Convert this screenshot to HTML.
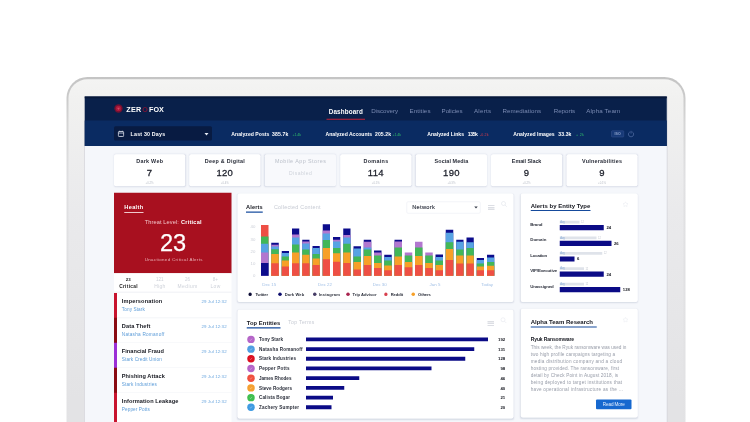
<!DOCTYPE html>
<html lang="en"><head><meta charset="utf-8"><title>ZeroFOX Dashboard</title>
<style>
html,body{margin:0;padding:0;background:#fff;}
body{width:750px;height:422px;overflow:hidden;position:relative;font-family:"Liberation Sans",sans-serif;}
#clip{position:absolute;left:0;top:0;width:750px;height:422px;overflow:hidden;background:#fff;}
#stage{position:absolute;left:0;top:0;width:3000px;height:1760px;overflow:hidden;background:#fff;transform:scale(0.25);transform-origin:0 0;filter:blur(2.2px);}
.r{position:absolute;display:block;}
.t{position:absolute;white-space:nowrap;margin:0;padding:0;}
</style></head><body><div id="clip"><div id="stage">
<div class="r" style="left:265.6px;top:307.6px;width:2476.8px;height:1600px;border-radius:84px;background:linear-gradient(to bottom,#c4c4c4 0,#cbcbcb 88px,#d6d6d6 180px,#e0e0e2 400px,#e3e3e5 100%);"></div>
<div class="r" style="left:274px;top:317.2px;width:2460px;height:1600px;border-radius:76px;background:linear-gradient(to bottom,#f4f4f3 0,#f1f1f0 80px,#eaeaec 520px,#e3e3e5 1280px);"></div>
<div class="r" style="left:335.6px;top:385.6px;width:2334.4px;height:1374.4px;background:#d3d3d9;"></div>
<div class="r" style="left:338.8px;top:386.4px;width:2328px;height:1373.6px;background:#f5f7fb;"></div>
<div class="r" style="left:338.8px;top:386.4px;width:2328px;height:197.6px;background:#09204a;"></div>
<div class="r" style="left:338.8px;top:386.4px;width:2328px;height:6.4px;background:#061738;"></div>
<div class="r" style="left:338.8px;top:482.4px;width:2328px;height:101.6px;background:#0a2b62;"></div>
<svg class="r" style="left:454.4px;top:414px;width:40px;height:40px" viewBox="0 0 10 10"><circle cx="5" cy="5" r="4.2" fill="#6e1232"/><circle cx="5" cy="5" r="2.8" fill="#ac173a"/><path d="M3.4 3.9 L5 6.6 L6.6 3.9 L5.6 4.6 L5 4.1 L4.4 4.6 Z" fill="#d04862"/></svg>
<div class="t" style="top:419.52px;font-size:28.8px;line-height:34.56px;color:#fff;font-weight:700;letter-spacing:1.2px;left:505.2px;">ZER</div>
<div class="t" style="top:419.52px;font-size:28.8px;line-height:34.56px;color:#7c1434;font-weight:700;left:568.8px;">O</div>
<div class="t" style="top:419.52px;font-size:28.8px;line-height:34.56px;color:#fff;font-weight:700;letter-spacing:0.2px;left:596px;">FOX</div>
<div class="t" style="top:429.68px;font-size:25.2px;line-height:30.24px;color:#fff;font-weight:700;letter-spacing:0.6px;left:1314.8px;">Dashboard</div>
<div class="r" style="left:1306px;top:475.2px;width:154px;height:3.6px;background:#c2203a;"></div>
<div class="t" style="top:429.92px;font-size:24.8px;line-height:29.76px;color:#7b8bb3;letter-spacing:-0.21px;left:1484.8px;">Discovery</div>
<div class="t" style="top:429.92px;font-size:24.8px;line-height:29.76px;color:#7b8bb3;letter-spacing:0.32px;left:1638.4px;">Entities</div>
<div class="t" style="top:429.92px;font-size:24.8px;line-height:29.76px;color:#7b8bb3;letter-spacing:-0.26px;left:1766.4px;">Policies</div>
<div class="t" style="top:429.92px;font-size:24.8px;line-height:29.76px;color:#7b8bb3;letter-spacing:0.92px;left:1896px;">Alerts</div>
<div class="t" style="top:429.92px;font-size:24.8px;line-height:29.76px;color:#7b8bb3;letter-spacing:0.32px;left:2009.6px;">Remediations</div>
<div class="t" style="top:429.92px;font-size:24.8px;line-height:29.76px;color:#7b8bb3;letter-spacing:-0.14px;left:2214.8px;">Reports</div>
<div class="t" style="top:429.92px;font-size:24.8px;line-height:29.76px;color:#7b8bb3;letter-spacing:0.56px;left:2345.2px;">Alpha Team</div>
<div class="r" style="left:456px;top:504.8px;width:392px;height:57.2px;background:#081b42;border-radius:6px;"></div>
<svg class="r" style="left:470.4px;top:520.8px;width:28px;height:28px" viewBox="0 0 7 7"><rect x="0.8" y="1.3" width="5.4" height="4.9" rx="0.8" fill="none" stroke="#e8ecf5" stroke-width="0.8"/><path d="M0.8 2.8H6.2M2.2 0.4V1.6M4.8 0.4V1.6" stroke="#e8ecf5" stroke-width="0.7" fill="none"/></svg>
<div class="t" style="top:524.48px;font-size:21.2px;line-height:25.44px;color:#fff;font-weight:700;letter-spacing:0.76px;left:522.4px;">Last 30 Days</div>
<div class="r" style="left:818.4px;top:532px;width:0;height:0;border-left:8.8px solid transparent;border-right:8.8px solid transparent;border-top:10.8px solid #e8ecf5;"></div>
<div class="t" style="top:524.56px;font-size:20.4px;line-height:24.48px;color:#fff;font-weight:700;letter-spacing:0.1px;left:925.2px;">Analyzed Posts</div>
<div class="t" style="top:524.56px;font-size:20.4px;line-height:24.48px;color:#fff;font-weight:700;letter-spacing:0.64px;left:1087.6px;">385.7k</div>
<div class="t" style="top:528.96px;font-size:14.4px;line-height:17.28px;color:#2fbf6b;letter-spacing:-0.41px;left:1170px;">+1.4k</div>
<div class="t" style="top:524.56px;font-size:20.4px;line-height:24.48px;color:#fff;font-weight:700;letter-spacing:-0.11px;left:1302.4px;">Analyzed Accounts</div>
<div class="t" style="top:524.56px;font-size:20.4px;line-height:24.48px;color:#fff;font-weight:700;letter-spacing:0.32px;left:1500px;">205.2k</div>
<div class="t" style="top:528.96px;font-size:14.4px;line-height:17.28px;color:#2fbf6b;letter-spacing:-0.41px;left:1570px;">+1.4k</div>
<div class="t" style="top:524.56px;font-size:20.4px;line-height:24.48px;color:#fff;font-weight:700;letter-spacing:-0.13px;left:1709.2px;">Analyzed Links</div>
<div class="t" style="top:524.56px;font-size:20.4px;line-height:24.48px;color:#fff;font-weight:700;letter-spacing:-1.66px;left:1871.2px;">135k</div>
<div class="t" style="top:528.96px;font-size:14.4px;line-height:17.28px;color:#d83a4a;letter-spacing:0.5px;left:1920px;">-0.2k</div>
<div class="t" style="top:524.56px;font-size:20.4px;line-height:24.48px;color:#fff;font-weight:700;letter-spacing:0px;left:2052.8px;">Analyzed Images</div>
<div class="t" style="top:524.56px;font-size:20.4px;line-height:24.48px;color:#fff;font-weight:700;letter-spacing:0.34px;left:2233.2px;">33.3k</div>
<div class="t" style="top:528.96px;font-size:14.4px;line-height:17.28px;color:#2fbf6b;letter-spacing:1.06px;left:2304px;">+ 2k</div>
<div class="r" style="left:2445.2px;top:521.6px;width:50.4px;height:27.2px;border:2px solid #3a5590;border-radius:4px;box-sizing:border-box;background:#173a78"></div>
<div class="t" style="top:526.96px;font-size:14.4px;line-height:17.28px;color:#8ea2cc;font-weight:700;left:2070.4px;width:800px;text-align:center;">ISO</div>
<svg class="r" style="left:2508.8px;top:520.8px;width:30.4px;height:30.4px" viewBox="0 0 7 7"><path d="M2.3 1.6A2.4 2.4 0 1 0 4.7 1.6M3.5 0.5V3" stroke="#5570a6" stroke-width="0.7" fill="none"/></svg>
<div class="r" style="left:456px;top:617.2px;width:284.8px;height:128px;background:#fff;border-radius:8px;box-shadow:0 2.4px 6.4px rgba(40,60,110,0.17);"></div>
<div class="t" style="top:633.04px;font-size:21.6px;line-height:25.92px;color:#2a2e3a;font-weight:700;letter-spacing:1.14px;left:198.96px;width:800px;text-align:center;">Dark Web</div>
<div class="t" style="top:669.6px;font-size:38px;line-height:45.6px;color:#1c1f2a;left:198.4px;width:800px;text-align:center;letter-spacing:1px;-webkit-text-stroke:1.08px #1c1f2a;">7</div>
<div class="t" style="top:726.08px;font-size:11.2px;line-height:13.44px;color:#b7bcc6;left:198.4px;width:800px;text-align:center;">+0.2%</div>
<div class="r" style="left:756.8px;top:617.2px;width:284.8px;height:128px;background:#fff;border-radius:8px;box-shadow:0 2.4px 6.4px rgba(40,60,110,0.17);"></div>
<div class="t" style="top:633.04px;font-size:21.6px;line-height:25.92px;color:#2a2e3a;font-weight:700;letter-spacing:1.04px;left:499.72px;width:800px;text-align:center;">Deep &amp; Digital</div>
<div class="t" style="top:669.6px;font-size:38px;line-height:45.6px;color:#1c1f2a;left:499.2px;width:800px;text-align:center;letter-spacing:1px;-webkit-text-stroke:1.08px #1c1f2a;">120</div>
<div class="t" style="top:726.08px;font-size:11.2px;line-height:13.44px;color:#b7bcc6;left:499.2px;width:800px;text-align:center;">+0.4%</div>
<div class="r" style="left:1059.2px;top:617.2px;width:284.8px;height:128px;background:#f8f9fc;border-radius:8px;box-shadow:0 2.4px 6.4px rgba(40,60,110,0.17);"></div>
<div class="t" style="top:633.04px;font-size:21.6px;line-height:25.92px;color:#bcc1cb;letter-spacing:1.8px;left:802.48px;width:800px;text-align:center;">Mobile App Stores</div>
<div class="t" style="top:682.4px;font-size:20px;line-height:24px;color:#cfd3db;letter-spacing:2.02px;left:802.6px;width:800px;text-align:center;">Disabled</div>
<div class="r" style="left:1360.8px;top:617.2px;width:284.8px;height:128px;background:#fff;border-radius:8px;box-shadow:0 2.4px 6.4px rgba(40,60,110,0.17);"></div>
<div class="t" style="top:633.04px;font-size:21.6px;line-height:25.92px;color:#2a2e3a;font-weight:700;letter-spacing:1.33px;left:1103.88px;width:800px;text-align:center;">Domains</div>
<div class="t" style="top:669.6px;font-size:38px;line-height:45.6px;color:#1c1f2a;left:1103.2px;width:800px;text-align:center;letter-spacing:1px;-webkit-text-stroke:1.08px #1c1f2a;">114</div>
<div class="t" style="top:726.08px;font-size:11.2px;line-height:13.44px;color:#b7bcc6;left:1103.2px;width:800px;text-align:center;">+0.5%</div>
<div class="r" style="left:1663.2px;top:617.2px;width:284.8px;height:128px;background:#fff;border-radius:8px;box-shadow:0 2.4px 6.4px rgba(40,60,110,0.17);"></div>
<div class="t" style="top:633.04px;font-size:21.6px;line-height:25.92px;color:#2a2e3a;font-weight:700;letter-spacing:0.32px;left:1405.76px;width:800px;text-align:center;">Social Media</div>
<div class="t" style="top:669.6px;font-size:38px;line-height:45.6px;color:#1c1f2a;left:1405.6px;width:800px;text-align:center;letter-spacing:1px;-webkit-text-stroke:1.08px #1c1f2a;">190</div>
<div class="t" style="top:726.08px;font-size:11.2px;line-height:13.44px;color:#b7bcc6;left:1405.6px;width:800px;text-align:center;">+0.3%</div>
<div class="r" style="left:1964px;top:617.2px;width:284.8px;height:128px;background:#fff;border-radius:8px;box-shadow:0 2.4px 6.4px rgba(40,60,110,0.17);"></div>
<div class="t" style="top:633.04px;font-size:21.6px;line-height:25.92px;color:#2a2e3a;font-weight:700;letter-spacing:-0.21px;left:1706.28px;width:800px;text-align:center;">Email Slack</div>
<div class="t" style="top:669.6px;font-size:38px;line-height:45.6px;color:#1c1f2a;left:1706.4px;width:800px;text-align:center;letter-spacing:1px;-webkit-text-stroke:1.08px #1c1f2a;">9</div>
<div class="t" style="top:726.08px;font-size:11.2px;line-height:13.44px;color:#b7bcc6;left:1706.4px;width:800px;text-align:center;">+0.2%</div>
<div class="r" style="left:2265.6px;top:617.2px;width:284.8px;height:128px;background:#fff;border-radius:8px;box-shadow:0 2.4px 6.4px rgba(40,60,110,0.17);"></div>
<div class="t" style="top:633.04px;font-size:21.6px;line-height:25.92px;color:#2a2e3a;font-weight:700;letter-spacing:0.94px;left:2008.48px;width:800px;text-align:center;">Vulnerabilities</div>
<div class="t" style="top:669.6px;font-size:38px;line-height:45.6px;color:#1c1f2a;left:2008px;width:800px;text-align:center;letter-spacing:1px;-webkit-text-stroke:1.08px #1c1f2a;">9</div>
<div class="t" style="top:726.08px;font-size:11.2px;line-height:13.44px;color:#b7bcc6;left:2008px;width:800px;text-align:center;">+0.1%</div>
<div class="r" style="left:456px;top:770.8px;width:469.6px;height:322px;background:#a8101f;"></div>
<div class="t" style="top:815.36px;font-size:22.4px;line-height:26.88px;color:#fff;font-weight:700;letter-spacing:1.35px;left:497.2px;">Health</div>
<div class="r" style="left:497.2px;top:848px;width:77.2px;height:3.6px;background:#f0c8cc;"></div>
<div class="t" style="top:876.16px;font-size:22.4px;line-height:26.88px;color:#f1c3c8;letter-spacing:0.44px;left:579.2px;">Threat Level:</div>
<div class="t" style="top:876.16px;font-size:22.4px;line-height:26.88px;color:#fff;font-weight:700;letter-spacing:0.92px;left:724px;">Critical</div>
<div class="t" style="top:915.36px;font-size:94.4px;line-height:113.28px;color:#fff;left:292px;width:800px;text-align:center;-webkit-text-stroke:1px #fff;">23</div>
<div class="t" style="top:1027.84px;font-size:17.6px;line-height:21.12px;color:#e9b0b6;letter-spacing:1.35px;left:295.08px;width:800px;text-align:center;">Unactioned Critical Alerts</div>
<div class="r" style="left:456px;top:1092.8px;width:469.6px;height:667.2px;background:#fff;"></div>
<div class="t" style="top:1107.44px;font-size:17.6px;line-height:21.12px;color:#222;font-weight:700;left:112.8px;width:800px;text-align:center;">23</div>
<div class="t" style="top:1134.88px;font-size:19.2px;line-height:23.04px;color:#222;font-weight:700;letter-spacing:1.27px;left:114.24px;width:800px;text-align:center;">Critical</div>
<div class="t" style="top:1107.6px;font-size:18px;line-height:21.6px;color:#cdd1d9;left:239.2px;width:800px;text-align:center;">121</div>
<div class="t" style="top:1134.64px;font-size:19.6px;line-height:23.52px;color:#cdd1d9;letter-spacing:1.23px;left:239.8px;width:800px;text-align:center;">High</div>
<div class="t" style="top:1107.6px;font-size:18px;line-height:21.6px;color:#cdd1d9;left:349.6px;width:800px;text-align:center;">26</div>
<div class="t" style="top:1134.64px;font-size:19.6px;line-height:23.52px;color:#cdd1d9;letter-spacing:2.06px;left:350.64px;width:800px;text-align:center;">Medium</div>
<div class="t" style="top:1107.6px;font-size:18px;line-height:21.6px;color:#cdd1d9;left:461.6px;width:800px;text-align:center;">8+</div>
<div class="t" style="top:1134.64px;font-size:19.6px;line-height:23.52px;color:#cdd1d9;letter-spacing:1.22px;left:462.2px;width:800px;text-align:center;">Low</div>
<div class="r" style="left:456px;top:1167.2px;width:469.6px;height:2.8px;background:#e9ecf2;"></div>
<div class="r" style="left:455.6px;top:1171.6px;width:12.8px;height:104px;background:#c8142e;"></div>
<div class="t" style="top:1193.36px;font-size:22.4px;line-height:26.88px;color:#15171f;font-weight:700;letter-spacing:0.64px;left:487.2px;">Impersonation</div>
<div class="t" style="top:1227.52px;font-size:18.8px;line-height:22.56px;color:#5b9bd8;letter-spacing:0.36px;left:487.2px;">Tony Stark</div>
<div class="t" style="top:1197.04px;font-size:17.6px;line-height:21.12px;color:#6aa6de;letter-spacing:0.45px;left:106.84px;width:800px;text-align:right;">29 Jul 12:32</div>
<div class="r" style="left:455.6px;top:1271.4px;width:12.8px;height:104px;background:#8a0a12;"></div>
<div class="t" style="top:1293.16px;font-size:22.4px;line-height:26.88px;color:#15171f;font-weight:700;letter-spacing:0.5px;left:487.2px;">Data Theft</div>
<div class="t" style="top:1327.32px;font-size:18.8px;line-height:22.56px;color:#5b9bd8;letter-spacing:0.91px;left:487.2px;">Natasha Romanoff</div>
<div class="t" style="top:1296.84px;font-size:17.6px;line-height:21.12px;color:#6aa6de;letter-spacing:0.45px;left:106.84px;width:800px;text-align:right;">29 Jul 12:32</div>
<div class="r" style="left:468.4px;top:1270.2px;width:457.2px;height:2.4px;background:#f0f2f6;"></div>
<div class="r" style="left:455.6px;top:1371.2px;width:12.8px;height:104px;background:#9b2fd6;"></div>
<div class="t" style="top:1392.96px;font-size:22.4px;line-height:26.88px;color:#15171f;font-weight:700;letter-spacing:0.18px;left:487.2px;">Financial Fraud</div>
<div class="t" style="top:1427.12px;font-size:18.8px;line-height:22.56px;color:#5b9bd8;letter-spacing:0.38px;left:487.2px;">Stark Credit Union</div>
<div class="t" style="top:1396.64px;font-size:17.6px;line-height:21.12px;color:#6aa6de;letter-spacing:0.45px;left:106.84px;width:800px;text-align:right;">29 Jul 12:32</div>
<div class="r" style="left:468.4px;top:1370px;width:457.2px;height:2.4px;background:#f0f2f6;"></div>
<div class="r" style="left:455.6px;top:1471px;width:12.8px;height:104px;background:#8a0a12;"></div>
<div class="t" style="top:1492.76px;font-size:22.4px;line-height:26.88px;color:#15171f;font-weight:700;letter-spacing:0.26px;left:487.2px;">Phishing Attack</div>
<div class="t" style="top:1526.92px;font-size:18.8px;line-height:22.56px;color:#5b9bd8;letter-spacing:0.63px;left:487.2px;">Stark Industries</div>
<div class="t" style="top:1496.44px;font-size:17.6px;line-height:21.12px;color:#6aa6de;letter-spacing:0.45px;left:106.84px;width:800px;text-align:right;">29 Jul 12:32</div>
<div class="r" style="left:468.4px;top:1469.8px;width:457.2px;height:2.4px;background:#f0f2f6;"></div>
<div class="r" style="left:455.6px;top:1570.8px;width:12.8px;height:104px;background:#c8142e;"></div>
<div class="t" style="top:1592.56px;font-size:22.4px;line-height:26.88px;color:#15171f;font-weight:700;letter-spacing:0.39px;left:487.2px;">Information Leakage</div>
<div class="t" style="top:1626.72px;font-size:18.8px;line-height:22.56px;color:#5b9bd8;letter-spacing:0.3px;left:487.2px;">Pepper Potts</div>
<div class="t" style="top:1596.24px;font-size:17.6px;line-height:21.12px;color:#6aa6de;letter-spacing:0.45px;left:106.84px;width:800px;text-align:right;">29 Jul 12:32</div>
<div class="r" style="left:468.4px;top:1569.6px;width:457.2px;height:2.4px;background:#f0f2f6;"></div>
<div class="r" style="left:455.6px;top:1670.6px;width:12.8px;height:89.4px;background:#c8142e;"></div>
<div class="r" style="left:950.4px;top:774.4px;width:1104px;height:433.6px;background:#fff;border-radius:8px;box-shadow:0 2.4px 6.4px rgba(40,60,110,0.15);"></div>
<div class="t" style="top:815.36px;font-size:22.4px;line-height:26.88px;color:#15171f;font-weight:700;letter-spacing:0.66px;left:984px;">Alerts</div>
<div class="r" style="left:984px;top:846.4px;width:67.2px;height:4.4px;background:#1a4fa0;"></div>
<div class="t" style="top:815.84px;font-size:21.6px;line-height:25.92px;color:#c6cad3;letter-spacing:0.9px;left:1096px;">Collected Content</div>
<div class="r" style="left:1626.4px;top:805.6px;width:296px;height:48px;border:2.4px solid #e6e9f0;border-radius:6px;box-sizing:border-box;background:#fff"></div>
<div class="t" style="top:815.92px;font-size:22.8px;line-height:27.36px;color:#3a3e4a;letter-spacing:1.13px;left:1648.8px;-webkit-text-stroke:0.6px #3a3e4a;">Network</div>
<div class="r" style="left:1896.8px;top:826px;width:0;height:0;border-left:7.2px solid transparent;border-right:7.2px solid transparent;border-top:8.8px solid #3a3f4c;"></div>
<div class="r" style="left:1952px;top:820px;width:26px;height:2.4px;background:#b9bdc8;"></div>
<div class="r" style="left:1952px;top:827.6px;width:26px;height:2.4px;background:#b9bdc8;"></div>
<div class="r" style="left:1952px;top:835.2px;width:26px;height:2.4px;background:#b9bdc8;"></div>
<svg class="r" style="left:2002px;top:802px;width:28px;height:28px" viewBox="0 0 7 7"><circle cx="3" cy="3" r="2" fill="none" stroke="#e4e7ec" stroke-width="0.7"/><path d="M4.5 4.5L6.3 6.3" stroke="#e4e7ec" stroke-width="0.7"/></svg>
<div class="t" style="top:895.68px;font-size:17.2px;line-height:20.64px;color:#cbcfd7;left:221.2px;width:800px;text-align:right;">40</div>
<div class="t" style="top:945.68px;font-size:17.2px;line-height:20.64px;color:#cbcfd7;left:221.2px;width:800px;text-align:right;">30</div>
<div class="t" style="top:995.28px;font-size:17.2px;line-height:20.64px;color:#cbcfd7;left:221.2px;width:800px;text-align:right;">20</div>
<div class="t" style="top:1044.48px;font-size:17.2px;line-height:20.64px;color:#cbcfd7;left:221.2px;width:800px;text-align:right;">10</div>
<div class="t" style="top:1091.68px;font-size:17.2px;line-height:20.64px;color:#cbcfd7;left:221.2px;width:800px;text-align:right;">0</div>
<div class="r" style="left:1044.4px;top:900px;width:29.6px;height:202.8px;background:#ee4f45;"></div>
<div class="r" style="left:1044.4px;top:945.6px;width:29.6px;height:157.2px;background:#42b757;"></div>
<div class="r" style="left:1044.4px;top:974.8px;width:29.6px;height:128px;background:#57a3e3;"></div>
<div class="r" style="left:1044.4px;top:1010.4px;width:29.6px;height:92.4px;background:#b277cf;"></div>
<div class="r" style="left:1044.4px;top:1051.6px;width:29.6px;height:51.2px;background:#0c0c8c;"></div>
<div class="r" style="left:1085.48px;top:970.8px;width:29.6px;height:132px;background:#0c0c8c;"></div>
<div class="r" style="left:1085.48px;top:979.2px;width:29.6px;height:123.6px;background:#b277cf;"></div>
<div class="r" style="left:1085.48px;top:986px;width:29.6px;height:116.8px;background:#57a3e3;"></div>
<div class="r" style="left:1085.48px;top:996.8px;width:29.6px;height:106px;background:#42b757;"></div>
<div class="r" style="left:1085.48px;top:1016px;width:29.6px;height:86.8px;background:#f7a028;"></div>
<div class="r" style="left:1085.48px;top:1053.2px;width:29.6px;height:49.6px;background:#ee4f45;"></div>
<div class="r" style="left:1126.52px;top:1004.4px;width:29.6px;height:98.4px;background:#0c0c8c;"></div>
<div class="r" style="left:1126.52px;top:1011.6px;width:29.6px;height:91.2px;background:#57a3e3;"></div>
<div class="r" style="left:1126.52px;top:1026px;width:29.6px;height:76.8px;background:#42b757;"></div>
<div class="r" style="left:1126.52px;top:1042.4px;width:29.6px;height:60.4px;background:#f7a028;"></div>
<div class="r" style="left:1126.52px;top:1066px;width:29.6px;height:36.8px;background:#ee4f45;"></div>
<div class="r" style="left:1167.6px;top:914.4px;width:29.6px;height:188.4px;background:#0c0c8c;"></div>
<div class="r" style="left:1167.6px;top:938px;width:29.6px;height:164.8px;background:#b277cf;"></div>
<div class="r" style="left:1167.6px;top:950px;width:29.6px;height:152.8px;background:#57a3e3;"></div>
<div class="r" style="left:1167.6px;top:978px;width:29.6px;height:124.8px;background:#42b757;"></div>
<div class="r" style="left:1167.6px;top:1010.4px;width:29.6px;height:92.4px;background:#f7a028;"></div>
<div class="r" style="left:1167.6px;top:1053.2px;width:29.6px;height:49.6px;background:#ee4f45;"></div>
<div class="r" style="left:1208.64px;top:959.2px;width:29.6px;height:143.6px;background:#0c0c8c;"></div>
<div class="r" style="left:1208.64px;top:966px;width:29.6px;height:136.8px;background:#b277cf;"></div>
<div class="r" style="left:1208.64px;top:974px;width:29.6px;height:128.8px;background:#57a3e3;"></div>
<div class="r" style="left:1208.64px;top:998.4px;width:29.6px;height:104.4px;background:#42b757;"></div>
<div class="r" style="left:1208.64px;top:1019.2px;width:29.6px;height:83.6px;background:#f7a028;"></div>
<div class="r" style="left:1208.64px;top:1053.2px;width:29.6px;height:49.6px;background:#ee4f45;"></div>
<div class="r" style="left:1249.72px;top:984px;width:29.6px;height:118.8px;background:#0c0c8c;"></div>
<div class="r" style="left:1249.72px;top:992.4px;width:29.6px;height:110.4px;background:#57a3e3;"></div>
<div class="r" style="left:1249.72px;top:1016px;width:29.6px;height:86.8px;background:#42b757;"></div>
<div class="r" style="left:1249.72px;top:1033.6px;width:29.6px;height:69.2px;background:#f7a028;"></div>
<div class="r" style="left:1249.72px;top:1060px;width:29.6px;height:42.8px;background:#ee4f45;"></div>
<div class="r" style="left:1290.76px;top:896.8px;width:29.6px;height:206px;background:#0c0c8c;"></div>
<div class="r" style="left:1290.76px;top:922px;width:29.6px;height:180.8px;background:#b277cf;"></div>
<div class="r" style="left:1290.76px;top:933.6px;width:29.6px;height:169.2px;background:#57a3e3;"></div>
<div class="r" style="left:1290.76px;top:960px;width:29.6px;height:142.8px;background:#42b757;"></div>
<div class="r" style="left:1290.76px;top:992.4px;width:29.6px;height:110.4px;background:#f7a028;"></div>
<div class="r" style="left:1290.76px;top:1036.8px;width:29.6px;height:66px;background:#ee4f45;"></div>
<div class="r" style="left:1331.84px;top:948.4px;width:29.6px;height:154.4px;background:#0c0c8c;"></div>
<div class="r" style="left:1331.84px;top:959.2px;width:29.6px;height:143.6px;background:#b277cf;"></div>
<div class="r" style="left:1331.84px;top:966px;width:29.6px;height:136.8px;background:#57a3e3;"></div>
<div class="r" style="left:1331.84px;top:992.4px;width:29.6px;height:110.4px;background:#42b757;"></div>
<div class="r" style="left:1331.84px;top:1013.2px;width:29.6px;height:89.6px;background:#f7a028;"></div>
<div class="r" style="left:1331.84px;top:1047.2px;width:29.6px;height:55.6px;background:#ee4f45;"></div>
<div class="r" style="left:1372.88px;top:914.4px;width:29.6px;height:188.4px;background:#0c0c8c;"></div>
<div class="r" style="left:1372.88px;top:939.6px;width:29.6px;height:163.2px;background:#b277cf;"></div>
<div class="r" style="left:1372.88px;top:950px;width:29.6px;height:152.8px;background:#57a3e3;"></div>
<div class="r" style="left:1372.88px;top:974.8px;width:29.6px;height:128px;background:#42b757;"></div>
<div class="r" style="left:1372.88px;top:1010.4px;width:29.6px;height:92.4px;background:#f7a028;"></div>
<div class="r" style="left:1372.88px;top:1051.6px;width:29.6px;height:51.2px;background:#ee4f45;"></div>
<div class="r" style="left:1413.96px;top:984.8px;width:29.6px;height:118px;background:#0c0c8c;"></div>
<div class="r" style="left:1413.96px;top:994.4px;width:29.6px;height:108.4px;background:#57a3e3;"></div>
<div class="r" style="left:1413.96px;top:1026px;width:29.6px;height:76.8px;background:#42b757;"></div>
<div class="r" style="left:1413.96px;top:1048.4px;width:29.6px;height:54.4px;background:#f7a028;"></div>
<div class="r" style="left:1413.96px;top:1078px;width:29.6px;height:24.8px;background:#ee4f45;"></div>
<div class="r" style="left:1455px;top:959.2px;width:29.6px;height:143.6px;background:#0c0c8c;"></div>
<div class="r" style="left:1455px;top:967.2px;width:29.6px;height:135.6px;background:#b277cf;"></div>
<div class="r" style="left:1455px;top:989.6px;width:29.6px;height:113.2px;background:#57a3e3;"></div>
<div class="r" style="left:1455px;top:998px;width:29.6px;height:104.8px;background:#42b757;"></div>
<div class="r" style="left:1455px;top:1023.6px;width:29.6px;height:79.2px;background:#f7a028;"></div>
<div class="r" style="left:1455px;top:1060px;width:29.6px;height:42.8px;background:#ee4f45;"></div>
<div class="r" style="left:1496.08px;top:1001.6px;width:29.6px;height:101.2px;background:#0c0c8c;"></div>
<div class="r" style="left:1496.08px;top:1010.4px;width:29.6px;height:92.4px;background:#b277cf;"></div>
<div class="r" style="left:1496.08px;top:1022px;width:29.6px;height:80.8px;background:#42b757;"></div>
<div class="r" style="left:1496.08px;top:1051.6px;width:29.6px;height:51.2px;background:#f7a028;"></div>
<div class="r" style="left:1496.08px;top:1072px;width:29.6px;height:30.8px;background:#ee4f45;"></div>
<div class="r" style="left:1537.12px;top:1019.2px;width:29.6px;height:83.6px;background:#0c0c8c;"></div>
<div class="r" style="left:1537.12px;top:1028px;width:29.6px;height:74.8px;background:#57a3e3;"></div>
<div class="r" style="left:1537.12px;top:1042.4px;width:29.6px;height:60.4px;background:#42b757;"></div>
<div class="r" style="left:1537.12px;top:1061.6px;width:29.6px;height:41.2px;background:#f7a028;"></div>
<div class="r" style="left:1537.12px;top:1080.8px;width:29.6px;height:22px;background:#ee4f45;"></div>
<div class="r" style="left:1578.2px;top:959.2px;width:29.6px;height:143.6px;background:#0c0c8c;"></div>
<div class="r" style="left:1578.2px;top:966px;width:29.6px;height:136.8px;background:#b277cf;"></div>
<div class="r" style="left:1578.2px;top:989.6px;width:29.6px;height:113.2px;background:#42b757;"></div>
<div class="r" style="left:1578.2px;top:1026px;width:29.6px;height:76.8px;background:#f7a028;"></div>
<div class="r" style="left:1578.2px;top:1060px;width:29.6px;height:42.8px;background:#ee4f45;"></div>
<div class="r" style="left:1619.24px;top:1010.4px;width:29.6px;height:92.4px;background:#b277cf;"></div>
<div class="r" style="left:1619.24px;top:1022px;width:29.6px;height:80.8px;background:#42b757;"></div>
<div class="r" style="left:1619.24px;top:1048.4px;width:29.6px;height:54.4px;background:#f7a028;"></div>
<div class="r" style="left:1619.24px;top:1069.2px;width:29.6px;height:33.6px;background:#ee4f45;"></div>
<div class="r" style="left:1660.32px;top:967.2px;width:29.6px;height:135.6px;background:#b277cf;"></div>
<div class="r" style="left:1660.32px;top:989.6px;width:29.6px;height:113.2px;background:#42b757;"></div>
<div class="r" style="left:1660.32px;top:1023.6px;width:29.6px;height:79.2px;background:#f7a028;"></div>
<div class="r" style="left:1660.32px;top:1060px;width:29.6px;height:42.8px;background:#ee4f45;"></div>
<div class="r" style="left:1701.36px;top:1010.4px;width:29.6px;height:92.4px;background:#b277cf;"></div>
<div class="r" style="left:1701.36px;top:1022px;width:29.6px;height:80.8px;background:#42b757;"></div>
<div class="r" style="left:1701.36px;top:1051.6px;width:29.6px;height:51.2px;background:#f7a028;"></div>
<div class="r" style="left:1701.36px;top:1072px;width:29.6px;height:30.8px;background:#ee4f45;"></div>
<div class="r" style="left:1742.44px;top:1018px;width:29.6px;height:84.8px;background:#0c0c8c;"></div>
<div class="r" style="left:1742.44px;top:1028px;width:29.6px;height:74.8px;background:#57a3e3;"></div>
<div class="r" style="left:1742.44px;top:1042.4px;width:29.6px;height:60.4px;background:#42b757;"></div>
<div class="r" style="left:1742.44px;top:1060px;width:29.6px;height:42.8px;background:#f7a028;"></div>
<div class="r" style="left:1742.44px;top:1080.8px;width:29.6px;height:22px;background:#ee4f45;"></div>
<div class="r" style="left:1783.48px;top:919.2px;width:29.6px;height:183.6px;background:#0c0c8c;"></div>
<div class="r" style="left:1783.48px;top:930.8px;width:29.6px;height:172px;background:#57a3e3;"></div>
<div class="r" style="left:1783.48px;top:969.2px;width:29.6px;height:133.6px;background:#42b757;"></div>
<div class="r" style="left:1783.48px;top:995.6px;width:29.6px;height:107.2px;background:#f7a028;"></div>
<div class="r" style="left:1783.48px;top:1039.6px;width:29.6px;height:63.2px;background:#ee4f45;"></div>
<div class="r" style="left:1824.56px;top:959.2px;width:29.6px;height:143.6px;background:#0c0c8c;"></div>
<div class="r" style="left:1824.56px;top:967.2px;width:29.6px;height:135.6px;background:#57a3e3;"></div>
<div class="r" style="left:1824.56px;top:998.4px;width:29.6px;height:104.4px;background:#42b757;"></div>
<div class="r" style="left:1824.56px;top:1022px;width:29.6px;height:80.8px;background:#f7a028;"></div>
<div class="r" style="left:1824.56px;top:1054.4px;width:29.6px;height:48.4px;background:#ee4f45;"></div>
<div class="r" style="left:1865.6px;top:949.6px;width:29.6px;height:153.2px;background:#0c0c8c;"></div>
<div class="r" style="left:1865.6px;top:969.2px;width:29.6px;height:133.6px;background:#57a3e3;"></div>
<div class="r" style="left:1865.6px;top:992.4px;width:29.6px;height:110.4px;background:#42b757;"></div>
<div class="r" style="left:1865.6px;top:1022px;width:29.6px;height:80.8px;background:#f7a028;"></div>
<div class="r" style="left:1865.6px;top:1054.4px;width:29.6px;height:48.4px;background:#ee4f45;"></div>
<div class="r" style="left:1906.68px;top:1032px;width:29.6px;height:70.8px;background:#0c0c8c;"></div>
<div class="r" style="left:1906.68px;top:1039.6px;width:29.6px;height:63.2px;background:#57a3e3;"></div>
<div class="r" style="left:1906.68px;top:1054.4px;width:29.6px;height:48.4px;background:#42b757;"></div>
<div class="r" style="left:1906.68px;top:1066px;width:29.6px;height:36.8px;background:#f7a028;"></div>
<div class="r" style="left:1906.68px;top:1080.8px;width:29.6px;height:22px;background:#ee4f45;"></div>
<div class="r" style="left:1947.72px;top:1019.2px;width:29.6px;height:83.6px;background:#0c0c8c;"></div>
<div class="r" style="left:1947.72px;top:1029.6px;width:29.6px;height:73.2px;background:#57a3e3;"></div>
<div class="r" style="left:1947.72px;top:1048.4px;width:29.6px;height:54.4px;background:#42b757;"></div>
<div class="r" style="left:1947.72px;top:1063.2px;width:29.6px;height:39.6px;background:#f7a028;"></div>
<div class="r" style="left:1947.72px;top:1080.8px;width:29.6px;height:22px;background:#ee4f45;"></div>
<div class="t" style="top:1126.64px;font-size:17.6px;line-height:21.12px;color:#a3c1e6;left:677.2px;width:800px;text-align:center;">Dec 15</div>
<div class="t" style="top:1126.64px;font-size:17.6px;line-height:21.12px;color:#a3c1e6;left:900px;width:800px;text-align:center;">Dec 22</div>
<div class="t" style="top:1126.64px;font-size:17.6px;line-height:21.12px;color:#a3c1e6;left:1119.2px;width:800px;text-align:center;">Dec 30</div>
<div class="t" style="top:1126.64px;font-size:17.6px;line-height:21.12px;color:#a3c1e6;left:1340px;width:800px;text-align:center;">Jan 5</div>
<div class="t" style="top:1126.64px;font-size:17.6px;line-height:21.12px;color:#a3c1e6;left:1548.8px;width:800px;text-align:center;">Today</div>
<div class="r" style="left:993.6px;top:1170.4px;width:13.6px;height:13.6px;background:#0b0b34;border-radius:50%;"></div>
<div class="t" style="top:1168.56px;font-size:16.4px;line-height:19.68px;color:#2c303c;font-weight:700;letter-spacing:-0.42px;left:1022px;">Twitter</div>
<div class="r" style="left:1113.2px;top:1170.4px;width:13.6px;height:13.6px;background:#0c0c6c;border-radius:50%;"></div>
<div class="t" style="top:1168.56px;font-size:16.4px;line-height:19.68px;color:#2c303c;font-weight:700;letter-spacing:0.32px;left:1139.2px;">Dark Web</div>
<div class="r" style="left:1252px;top:1170.4px;width:13.6px;height:13.6px;background:#463c66;border-radius:50%;"></div>
<div class="t" style="top:1168.56px;font-size:16.4px;line-height:19.68px;color:#2c303c;font-weight:700;letter-spacing:0.85px;left:1274.8px;">Instagram</div>
<div class="r" style="left:1385.2px;top:1170.4px;width:13.6px;height:13.6px;background:#a8234e;border-radius:50%;"></div>
<div class="t" style="top:1168.56px;font-size:16.4px;line-height:19.68px;color:#2c303c;font-weight:700;letter-spacing:0.08px;left:1410px;">Trip Advisor</div>
<div class="r" style="left:1536.8px;top:1170.4px;width:13.6px;height:13.6px;background:#d8404e;border-radius:50%;"></div>
<div class="t" style="top:1168.56px;font-size:16.4px;line-height:19.68px;color:#2c303c;font-weight:700;letter-spacing:-0.2px;left:1562.8px;">Reddit</div>
<div class="r" style="left:1646.4px;top:1170.4px;width:13.6px;height:13.6px;background:#f7a028;border-radius:50%;"></div>
<div class="t" style="top:1168.56px;font-size:16.4px;line-height:19.68px;color:#2c303c;font-weight:700;letter-spacing:-0.49px;left:1672.4px;">Others</div>
<div class="r" style="left:2083.2px;top:774.4px;width:468px;height:433.6px;background:#fff;border-radius:8px;box-shadow:0 2.4px 6.4px rgba(40,60,110,0.15);"></div>
<div class="t" style="top:810.4px;font-size:24px;line-height:28.8px;color:#15171f;font-weight:700;letter-spacing:0.09px;left:2122.8px;">Alerts by Entity Type</div>
<div class="r" style="left:2122.8px;top:840px;width:239.6px;height:4.4px;background:#154a9c;"></div>
<svg class="r" style="left:2490px;top:804.8px;width:24px;height:24px" viewBox="0 0 6 6"><path d="M3 0.5L3.8 2.2 5.6 2.4 4.3 3.6 4.6 5.4 3 4.5 1.4 5.4 1.7 3.6 0.4 2.4 2.2 2.2Z" fill="none" stroke="#e9ebf0" stroke-width="0.5"/></svg>
<div class="t" style="top:886.24px;font-size:17.6px;line-height:21.12px;color:#2c303c;font-weight:700;letter-spacing:-0.51px;left:2120.8px;">Brand</div>
<div class="r" style="left:2238.8px;top:882.8px;width:79.6px;height:11.2px;background:#dfe3ea;"></div>
<div class="t" style="top:882.16px;font-size:10.4px;line-height:12.48px;color:#7fa6d6;left:2241.2px;">Avg</div>
<div class="t" style="top:882.96px;font-size:10.4px;line-height:12.48px;color:#c3c7d0;left:2324.4px;">12</div>
<div class="r" style="left:2238.8px;top:900.4px;width:176.4px;height:20.8px;background:#0b0b86;"></div>
<div class="t" style="top:901.12px;font-size:16.8px;line-height:20.16px;color:#15171f;font-weight:700;left:2425.6px;">24</div>
<div class="t" style="top:949.04px;font-size:17.6px;line-height:21.12px;color:#2c303c;font-weight:700;letter-spacing:0.05px;left:2120.8px;">Domain</div>
<div class="r" style="left:2238.8px;top:945.6px;width:147.6px;height:11.2px;background:#dfe3ea;"></div>
<div class="t" style="top:944.96px;font-size:10.4px;line-height:12.48px;color:#7fa6d6;left:2241.2px;">Avg</div>
<div class="t" style="top:945.76px;font-size:10.4px;line-height:12.48px;color:#c3c7d0;left:2392.4px;">12</div>
<div class="r" style="left:2238.8px;top:963.2px;width:206.8px;height:20.8px;background:#0b0b86;"></div>
<div class="t" style="top:963.92px;font-size:16.8px;line-height:20.16px;color:#15171f;font-weight:700;left:2456px;">26</div>
<div class="t" style="top:1011.44px;font-size:17.6px;line-height:21.12px;color:#2c303c;font-weight:700;letter-spacing:-0.76px;left:2120.8px;">Location</div>
<div class="r" style="left:2238.8px;top:1008px;width:170.4px;height:11.2px;background:#dfe3ea;"></div>
<div class="t" style="top:1007.36px;font-size:10.4px;line-height:12.48px;color:#7fa6d6;left:2241.2px;">Avg</div>
<div class="t" style="top:1008.16px;font-size:10.4px;line-height:12.48px;color:#c3c7d0;left:2415.2px;">12</div>
<div class="r" style="left:2238.8px;top:1025.6px;width:59.2px;height:20.8px;background:#0b0b86;"></div>
<div class="t" style="top:1026.32px;font-size:16.8px;line-height:20.16px;color:#15171f;font-weight:700;left:2308.4px;">6</div>
<div class="t" style="top:1072.24px;font-size:17.6px;line-height:21.12px;color:#2c303c;font-weight:700;letter-spacing:-0.62px;left:2120.8px;">VIP/Executive</div>
<div class="r" style="left:2238.8px;top:1068.8px;width:96.8px;height:11.2px;background:#dfe3ea;"></div>
<div class="t" style="top:1068.16px;font-size:10.4px;line-height:12.48px;color:#7fa6d6;left:2241.2px;">Avg</div>
<div class="t" style="top:1068.96px;font-size:10.4px;line-height:12.48px;color:#c3c7d0;left:2341.6px;">12</div>
<div class="r" style="left:2238.8px;top:1086.4px;width:176.4px;height:20.8px;background:#0b0b86;"></div>
<div class="t" style="top:1087.12px;font-size:16.8px;line-height:20.16px;color:#15171f;font-weight:700;left:2425.6px;">24</div>
<div class="t" style="top:1134.24px;font-size:17.6px;line-height:21.12px;color:#2c303c;font-weight:700;letter-spacing:-0.6px;left:2120.8px;">Unassigned</div>
<div class="r" style="left:2238.8px;top:1130.8px;width:96.8px;height:11.2px;background:#dfe3ea;"></div>
<div class="t" style="top:1130.16px;font-size:10.4px;line-height:12.48px;color:#7fa6d6;left:2241.2px;">Avg</div>
<div class="t" style="top:1130.96px;font-size:10.4px;line-height:12.48px;color:#c3c7d0;left:2341.6px;">12</div>
<div class="r" style="left:2238.8px;top:1148.4px;width:242px;height:20.8px;background:#0b0b86;"></div>
<div class="t" style="top:1149.12px;font-size:16.8px;line-height:20.16px;color:#15171f;font-weight:700;left:2491.2px;">128</div>
<div class="r" style="left:950.4px;top:1239.2px;width:1104px;height:435.2px;background:#fff;border-radius:8px;box-shadow:0 2.4px 6.4px rgba(40,60,110,0.15);"></div>
<div class="t" style="top:1276.88px;font-size:23.2px;line-height:27.84px;color:#15171f;font-weight:700;letter-spacing:0.27px;left:987.2px;">Top Entities</div>
<div class="r" style="left:987.2px;top:1309.2px;width:134.4px;height:4.4px;background:#154a9c;"></div>
<div class="t" style="top:1276.8px;font-size:20px;line-height:24px;color:#c6cad3;letter-spacing:1.52px;left:1152.8px;">Top Terms</div>
<div class="r" style="left:1950px;top:1286.4px;width:26px;height:2.4px;background:#b9bdc8;"></div>
<div class="r" style="left:1950px;top:1294px;width:26px;height:2.4px;background:#b9bdc8;"></div>
<div class="r" style="left:1950px;top:1301.6px;width:26px;height:2.4px;background:#b9bdc8;"></div>
<svg class="r" style="left:2000px;top:1266.8px;width:28px;height:28px" viewBox="0 0 7 7"><circle cx="3" cy="3" r="2" fill="none" stroke="#e9ebf0" stroke-width="0.7"/><path d="M4.5 4.5L6.3 6.3" stroke="#e9ebf0" stroke-width="0.7"/></svg>
<div class="r" style="left:989.2px;top:1342.8px;width:29.6px;height:29.6px;background:#b565c8;border-radius:50%;"></div>
<svg class="r" style="left:995.2px;top:1348.8px;width:17.6px;height:17.6px" viewBox="0 0 4.4 4.4"><path d="M1 2.3L1.9 3.1 3.4 1.3" fill="none" stroke="rgba(255,255,255,0.5)" stroke-width="0.6"/></svg>
<div class="t" style="top:1346.56px;font-size:18.4px;line-height:22.08px;color:#2c303c;font-weight:700;letter-spacing:0.25px;left:1036px;">Tony Stark</div>
<div class="r" style="left:1223.6px;top:1349.8px;width:728px;height:15.2px;background:#0b0b86;"></div>
<div class="t" style="top:1347.68px;font-size:17.2px;line-height:20.64px;color:#15171f;font-weight:700;left:1220.8px;width:800px;text-align:right;">192</div>
<div class="r" style="left:989.2px;top:1381.6px;width:29.6px;height:29.6px;background:#4f9fe2;border-radius:50%;"></div>
<svg class="r" style="left:995.2px;top:1387.6px;width:17.6px;height:17.6px" viewBox="0 0 4.4 4.4"><path d="M1 2.3L1.9 3.1 3.4 1.3" fill="none" stroke="rgba(255,255,255,0.5)" stroke-width="0.6"/></svg>
<div class="t" style="top:1385.36px;font-size:18.4px;line-height:22.08px;color:#2c303c;font-weight:700;letter-spacing:0.76px;left:1036px;">Natasha Romanoff</div>
<div class="r" style="left:1223.6px;top:1388.6px;width:673.6px;height:15.2px;background:#0b0b86;"></div>
<div class="t" style="top:1386.48px;font-size:17.2px;line-height:20.64px;color:#15171f;font-weight:700;left:1220.8px;width:800px;text-align:right;">131</div>
<div class="r" style="left:989.2px;top:1420.4px;width:29.6px;height:29.6px;background:#dc0f20;border-radius:50%;"></div>
<svg class="r" style="left:995.2px;top:1426.4px;width:17.6px;height:17.6px" viewBox="0 0 4.4 4.4"><path d="M1 2.3L1.9 3.1 3.4 1.3" fill="none" stroke="rgba(255,255,255,0.5)" stroke-width="0.6"/></svg>
<div class="t" style="top:1424.16px;font-size:18.4px;line-height:22.08px;color:#2c303c;font-weight:700;letter-spacing:0.6px;left:1036px;">Stark Industries</div>
<div class="r" style="left:1223.6px;top:1427.4px;width:637.2px;height:15.2px;background:#0b0b86;"></div>
<div class="t" style="top:1425.28px;font-size:17.2px;line-height:20.64px;color:#15171f;font-weight:700;left:1220.8px;width:800px;text-align:right;">128</div>
<div class="r" style="left:989.2px;top:1459.2px;width:29.6px;height:29.6px;background:#b565c8;border-radius:50%;"></div>
<svg class="r" style="left:995.2px;top:1465.2px;width:17.6px;height:17.6px" viewBox="0 0 4.4 4.4"><path d="M1 2.3L1.9 3.1 3.4 1.3" fill="none" stroke="rgba(255,255,255,0.5)" stroke-width="0.6"/></svg>
<div class="t" style="top:1462.96px;font-size:18.4px;line-height:22.08px;color:#2c303c;font-weight:700;letter-spacing:0.78px;left:1036px;">Pepper Potts</div>
<div class="r" style="left:1223.6px;top:1466.2px;width:502.8px;height:15.2px;background:#0b0b86;"></div>
<div class="t" style="top:1464.08px;font-size:17.2px;line-height:20.64px;color:#15171f;font-weight:700;left:1220.8px;width:800px;text-align:right;">98</div>
<div class="r" style="left:989.2px;top:1498px;width:29.6px;height:29.6px;background:#f0503f;border-radius:50%;"></div>
<svg class="r" style="left:995.2px;top:1504px;width:17.6px;height:17.6px" viewBox="0 0 4.4 4.4"><path d="M1 2.3L1.9 3.1 3.4 1.3" fill="none" stroke="rgba(255,255,255,0.5)" stroke-width="0.6"/></svg>
<div class="t" style="top:1501.76px;font-size:18.4px;line-height:22.08px;color:#2c303c;font-weight:700;letter-spacing:0.01px;left:1036px;">James Rhodes</div>
<div class="r" style="left:1223.6px;top:1505px;width:213.6px;height:15.2px;background:#0b0b86;"></div>
<div class="t" style="top:1502.88px;font-size:17.2px;line-height:20.64px;color:#15171f;font-weight:700;left:1220.8px;width:800px;text-align:right;">46</div>
<div class="r" style="left:989.2px;top:1536.8px;width:29.6px;height:29.6px;background:#f5a030;border-radius:50%;"></div>
<svg class="r" style="left:995.2px;top:1542.8px;width:17.6px;height:17.6px" viewBox="0 0 4.4 4.4"><path d="M1 2.3L1.9 3.1 3.4 1.3" fill="none" stroke="rgba(255,255,255,0.5)" stroke-width="0.6"/></svg>
<div class="t" style="top:1540.56px;font-size:18.4px;line-height:22.08px;color:#2c303c;font-weight:700;letter-spacing:0.26px;left:1036px;">Steve Rodgers</div>
<div class="r" style="left:1223.6px;top:1543.8px;width:153.2px;height:15.2px;background:#0b0b86;"></div>
<div class="t" style="top:1541.68px;font-size:17.2px;line-height:20.64px;color:#15171f;font-weight:700;left:1220.8px;width:800px;text-align:right;">40</div>
<div class="r" style="left:989.2px;top:1575.6px;width:29.6px;height:29.6px;background:#3fbf4f;border-radius:50%;"></div>
<svg class="r" style="left:995.2px;top:1581.6px;width:17.6px;height:17.6px" viewBox="0 0 4.4 4.4"><path d="M1 2.3L1.9 3.1 3.4 1.3" fill="none" stroke="rgba(255,255,255,0.5)" stroke-width="0.6"/></svg>
<div class="t" style="top:1579.36px;font-size:18.4px;line-height:22.08px;color:#2c303c;font-weight:700;letter-spacing:0.45px;left:1036px;">Calista Bogar</div>
<div class="r" style="left:1223.6px;top:1582.6px;width:108px;height:15.2px;background:#0b0b86;"></div>
<div class="t" style="top:1580.48px;font-size:17.2px;line-height:20.64px;color:#15171f;font-weight:700;left:1220.8px;width:800px;text-align:right;">21</div>
<div class="r" style="left:989.2px;top:1614.4px;width:29.6px;height:29.6px;background:#3f9be2;border-radius:50%;"></div>
<svg class="r" style="left:995.2px;top:1620.4px;width:17.6px;height:17.6px" viewBox="0 0 4.4 4.4"><path d="M1 2.3L1.9 3.1 3.4 1.3" fill="none" stroke="rgba(255,255,255,0.5)" stroke-width="0.6"/></svg>
<div class="t" style="top:1618.16px;font-size:18.4px;line-height:22.08px;color:#2c303c;font-weight:700;letter-spacing:0.69px;left:1036px;">Zachery Sumpter</div>
<div class="r" style="left:1223.6px;top:1621.4px;width:102px;height:15.2px;background:#0b0b86;"></div>
<div class="t" style="top:1619.28px;font-size:17.2px;line-height:20.64px;color:#15171f;font-weight:700;left:1220.8px;width:800px;text-align:right;">20</div>
<div class="r" style="left:2083.2px;top:1235.2px;width:468px;height:435.2px;background:#fff;border-radius:8px;box-shadow:0 2.4px 6.4px rgba(40,60,110,0.15);"></div>
<div class="t" style="top:1275.2px;font-size:24px;line-height:28.8px;color:#15171f;font-weight:700;letter-spacing:0.01px;left:2122.8px;">Alpha Team Research</div>
<div class="r" style="left:2122.8px;top:1306px;width:264.4px;height:4.4px;background:#154a9c;"></div>
<svg class="r" style="left:2490px;top:1266.8px;width:24px;height:24px" viewBox="0 0 6 6"><path d="M3 0.5L3.8 2.2 5.6 2.4 4.3 3.6 4.6 5.4 3 4.5 1.4 5.4 1.7 3.6 0.4 2.4 2.2 2.2Z" fill="none" stroke="#e9ebf0" stroke-width="0.5"/></svg>
<div class="t" style="top:1343.6px;font-size:20px;line-height:24px;color:#15171f;font-weight:700;letter-spacing:-0.41px;left:2122.8px;">Ryuk Ransomware</div>
<div class="t" style="top:1378.72px;font-size:18.8px;line-height:22.56px;color:#979ca8;letter-spacing:0.02px;left:2122.8px;">This week, the Ryuk ransomware was used in</div>
<div class="t" style="top:1406.92px;font-size:18.8px;line-height:22.56px;color:#979ca8;letter-spacing:0.58px;left:2122.8px;">two high profile campaigns targeting a</div>
<div class="t" style="top:1435.12px;font-size:18.8px;line-height:22.56px;color:#979ca8;letter-spacing:0.94px;left:2122.8px;">media distribution company and a cloud</div>
<div class="t" style="top:1463.32px;font-size:18.8px;line-height:22.56px;color:#979ca8;letter-spacing:0.64px;left:2122.8px;">hosting provided. The ransomware, first</div>
<div class="t" style="top:1491.52px;font-size:18.8px;line-height:22.56px;color:#979ca8;letter-spacing:0.51px;left:2122.8px;">detail by Check Point in August 2018, is</div>
<div class="t" style="top:1519.72px;font-size:18.8px;line-height:22.56px;color:#979ca8;letter-spacing:0.82px;left:2122.8px;">being deployed to target institutions that</div>
<div class="t" style="top:1547.92px;font-size:18.8px;line-height:22.56px;color:#979ca8;letter-spacing:0.94px;left:2122.8px;">have operational infrastructure as the ...</div>
<div class="r" style="left:2384px;top:1598.4px;width:142.4px;height:38.8px;background:#1668cf;border-radius:4px;"></div>
<div class="t" style="top:1606.96px;font-size:18.4px;line-height:22.08px;color:#e6f0ff;letter-spacing:-0.38px;left:2055px;width:800px;text-align:center;">Read More</div>
</div></div></body></html>
